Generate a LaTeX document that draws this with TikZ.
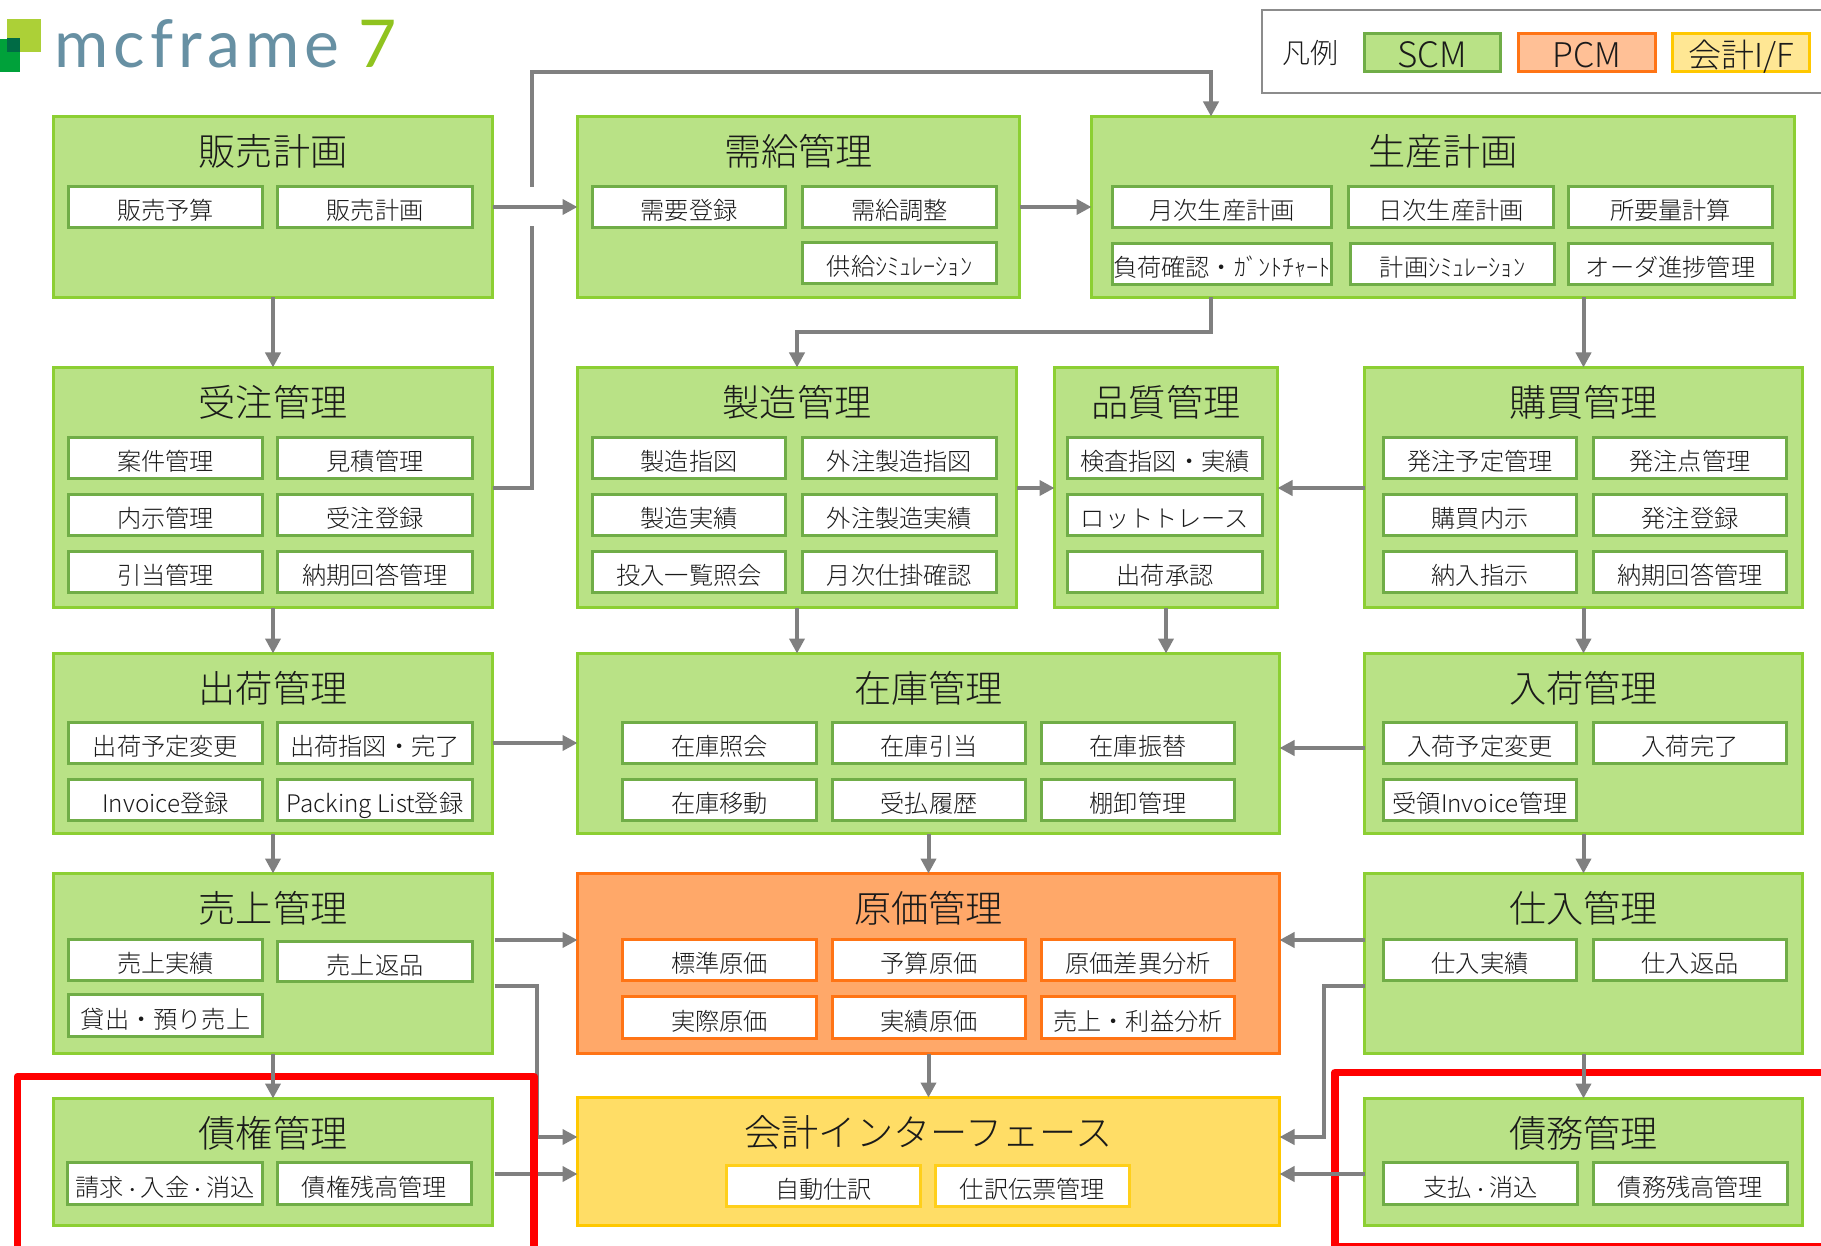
\documentclass[tikz,border=0pt]{standalone}
\usepackage{fontspec}
\usetikzlibrary{arrows.meta}
\setmainfont{Noto Sans CJK JP}[UprightFont=* Light,BoldFont=* Light]
\newfontfamily\logofont{Lato}
\definecolor{grn}{HTML}{B9E286}
\definecolor{grnb}{HTML}{8CCF33}
\definecolor{grns}{HTML}{70AD47}
\definecolor{org}{HTML}{FFA869}
\definecolor{orgb}{HTML}{FF7415}
\definecolor{yel}{HTML}{FFDD66}
\definecolor{yelb}{HTML}{FFC800}
\definecolor{yels}{HTML}{FFCF1A}
\definecolor{conncol}{HTML}{808080}
\definecolor{txt}{HTML}{1A1A1A}
\definecolor{logoa}{HTML}{ACD037}
\definecolor{logob}{HTML}{00A13A}
\definecolor{logoc}{HTML}{006B45}
\definecolor{logot}{HTML}{6790A3}
\definecolor{logos}{HTML}{90C31F}
\newcommand{\fs}[1]{\fontsize{#1}{#1}\selectfont}
\newcommand{\bx}[7]{%
  \pgfmathsetmacro\cxv{(#3+#5)/2}\pgfmathsetmacro\cyv{(#4+#6)/2}%
  \pgfmathsetmacro\wv{#5-#3-1}\pgfmathsetmacro\hv{#6-#4-1}%
  \node[#2,minimum width=\wv pt,minimum height=\hv pt] (#1) at (\cxv,\cyv) {#7};}
\newcommand{\ttl}[2]{\node[titletext] (#1t) at ([yshift=-35pt]#1.north) {#2};}
\newcommand{\sd}{{\fs{17}・}}
\tikzset{
  base/.style={rectangle,inner sep=0pt,outer sep=0pt,text=txt},
  gbig/.style={base,draw=grnb,fill=grn,line width=2.8pt},
  obig/.style={base,draw=orgb,fill=org,line width=2.8pt},
  ybig/.style={base,draw=yelb,fill=yel,line width=2.8pt},
  gs/.style={base,draw=grns,fill=white,line width=2.9pt,text height=25.5pt,text depth=0pt,font=\fs{24.2}},
  os/.style={gs,draw=orgb},
  ys/.style={gs,draw=yels},
  titletext/.style={inner sep=0pt,text=txt,font=\fs{37.2}},
  lgbox/.style={base,line width=3pt,text height=31pt,text depth=0pt},
  conn/.style={draw=conncol,line width=4pt,line join=miter},
  arr/.style={conn,-{Triangle[length=15pt,width=15pt]}},
  redframe/.style={draw=red,line width=7.5pt,line join=round},
}
\begin{document}
\begin{tikzpicture}[x=1pt,y=-1pt]
\clip (0,0) rectangle (1821,1246);
\fill[white] (0,0) rectangle (1821,1246);
% logo
\fill[logoa] (7,19) rectangle (41,52);
\fill[logob] (0,39) rectangle (20,72);
\fill[logoc] (7,38) rectangle (20,52);
\node[inner sep=0pt,anchor=base west,text=logot,font=\logofont\fs{66}] (logo) at (54,68) {m\kern5pt c\kern5pt f\kern5pt r\kern5pt a\kern5pt m\kern5pt e};
\node[inner sep=0pt,anchor=base west,text=logos,font=\logofont\fs{66}] (seven) at (358,68) {7};
% legend
\draw[draw=black!45,line width=2.5pt] (1262,10) rectangle (1900,93);
\node[base,font=\fs{28}] (lg) at (1310,53) {凡例};
\bx{lscm}{lgbox,draw=grns,fill=grn,font=\fs{35}}{1364}{33}{1501}{72}{SCM}
\bx{lpcm}{lgbox,draw=orgb,fill=orgb!45!white,font=\fs{34}}{1518}{33}{1656}{72}{PCM}
\bx{lif}{lgbox,draw=yelb,fill=yel!70!white,font=\fs{33}}{1672}{33}{1810}{72}{会計I/F}
% big boxes
\bx{hanbai}{gbig}{53}{116}{493}{298}{}
\bx{jukyu}{gbig}{577}{116}{1020}{298}{}
\bx{seisan}{gbig}{1091}{116}{1795}{298}{}
\bx{juchu}{gbig}{53}{367}{493}{608}{}
\bx{seizo}{gbig}{577}{367}{1017}{608}{}
\bx{hinshitsu}{gbig}{1054}{367}{1278}{608}{}
\bx{kobai}{gbig}{1364}{367}{1803}{608}{}
\bx{shukka}{gbig}{53}{653}{493}{834}{}
\bx{zaiko}{gbig}{577}{653}{1280}{834}{}
\bx{nyuka}{gbig}{1364}{653}{1803}{834}{}
\bx{uriage}{gbig}{53}{873}{493}{1054}{}
\bx{genka}{obig}{577}{873}{1280}{1054}{}
\bx{shiire}{gbig}{1364}{873}{1803}{1054}{}
\bx{saiken}{gbig}{53}{1098}{493}{1226}{}
\bx{kaikei}{ybig}{577}{1097}{1280}{1226}{}
\bx{saimu}{gbig}{1364}{1098}{1803}{1226}{}
% titles
\ttl{hanbai}{販売計画}\ttl{jukyu}{需給管理}\ttl{seisan}{生産計画}
\ttl{juchu}{受注管理}\ttl{seizo}{製造管理}\ttl{hinshitsu}{品質管理}\ttl{kobai}{購買管理}
\ttl{shukka}{出荷管理}\ttl{zaiko}{在庫管理}\ttl{nyuka}{入荷管理}
\ttl{uriage}{売上管理}\ttl{genka}{原価管理}\ttl{shiire}{仕入管理}
\ttl{saiken}{債権管理}\ttl{kaikei}{会計インターフェース}\ttl{saimu}{債務管理}
% small boxes
\bx{a1}{gs}{68}{186}{263}{228}{販売予算}
\bx{a2}{gs}{277}{186}{473}{228}{販売計画}
\bx{b1}{gs}{592}{186}{786}{228}{需要登録}
\bx{b2}{gs}{802}{186}{997}{228}{需給調整}
\bx{b3}{gs}{802}{242}{997}{284}{供給ｼﾐｭﾚｰｼｮﾝ}
\bx{c1}{gs}{1112}{186}{1332}{228}{月次生産計画}
\bx{c2}{gs}{1348}{186}{1554}{228}{日次生産計画}
\bx{c3}{gs}{1568}{186}{1773}{228}{所要量計算}
\bx{c4}{gs}{1112}{243}{1332}{285}{負荷確認・ｶﾞﾝﾄﾁｬｰﾄ}
\bx{c5}{gs}{1350}{243}{1555}{285}{計画ｼﾐｭﾚｰｼｮﾝ}
\bx{c6}{gs}{1568}{243}{1773}{285}{オーダ進捗管理}
\bx{d1}{gs}{68}{437}{263}{479}{案件管理}
\bx{d2}{gs}{277}{437}{473}{479}{見積管理}
\bx{d3}{gs}{68}{494}{263}{536}{内示管理}
\bx{d4}{gs}{277}{494}{473}{536}{受注登録}
\bx{d5}{gs}{68}{551}{263}{593}{引当管理}
\bx{d6}{gs}{277}{551}{473}{593}{納期回答管理}
\bx{e1}{gs}{592}{437}{786}{479}{製造指図}
\bx{e2}{gs}{802}{437}{997}{479}{外注製造指図}
\bx{e3}{gs}{592}{494}{786}{536}{製造実績}
\bx{e4}{gs}{802}{494}{997}{536}{外注製造実績}
\bx{e5}{gs}{592}{551}{786}{593}{投入一覧照会}
\bx{e6}{gs}{802}{551}{997}{593}{月次仕掛確認}
\bx{f1}{gs}{1067}{437}{1263}{479}{検査指図・実績}
\bx{f2}{gs}{1067}{494}{1263}{536}{ロットトレース}
\bx{f3}{gs}{1067}{551}{1263}{593}{出荷承認}
\bx{g1}{gs}{1383}{437}{1577}{479}{発注予定管理}
\bx{g2}{gs}{1593}{437}{1787}{479}{発注点管理}
\bx{g3}{gs}{1383}{494}{1577}{536}{購買内示}
\bx{g4}{gs}{1593}{494}{1787}{536}{発注登録}
\bx{g5}{gs}{1383}{551}{1577}{593}{納入指示}
\bx{g6}{gs}{1593}{551}{1787}{593}{納期回答管理}
\bx{h1}{gs}{68}{722}{263}{764}{出荷予定変更}
\bx{h2}{gs}{277}{722}{473}{764}{出荷指図・完了}
\bx{h3}{gs}{68}{779}{263}{821}{Invoice登録}
\bx{h4}{gs}{277}{779}{473}{821}{Packing List登録}
\bx{i1}{gs}{622}{722}{817}{764}{在庫照会}
\bx{i2}{gs}{832}{722}{1026}{764}{在庫引当}
\bx{i3}{gs}{1041}{722}{1235}{764}{在庫振替}
\bx{i4}{gs}{622}{779}{817}{821}{在庫移動}
\bx{i5}{gs}{832}{779}{1026}{821}{受払履歴}
\bx{i6}{gs}{1041}{779}{1235}{821}{棚卸管理}
\bx{j1}{gs}{1383}{722}{1577}{764}{入荷予定変更}
\bx{j2}{gs}{1593}{722}{1787}{764}{入荷完了}
\bx{j3}{gs}{1383}{779}{1577}{821}{受領Invoice管理}
\bx{k1}{gs}{68}{939}{263}{981}{売上実績}
\bx{k2}{gs}{277}{941}{473}{982}{売上返品}
\bx{k3}{gs}{68}{994}{263}{1037}{貸出・預り売上}
\bx{l1}{os}{622}{939}{817}{981}{標準原価}
\bx{l2}{os}{832}{939}{1026}{981}{予算原価}
\bx{l3}{os}{1041}{939}{1235}{981}{原価差異分析}
\bx{l4}{os}{622}{996}{817}{1039}{実際原価}
\bx{l5}{os}{832}{996}{1026}{1039}{実績原価}
\bx{l6}{os}{1041}{996}{1235}{1039}{売上・利益分析}
\bx{m1}{gs}{1383}{939}{1577}{981}{仕入実績}
\bx{m2}{gs}{1593}{939}{1787}{981}{仕入返品}
\bx{n1}{gs}{67}{1162}{263}{1205}{請求\sd 入金\sd 消込}
\bx{n2}{gs}{277}{1162}{472}{1205}{債権残高管理}
\bx{o1}{ys}{726}{1165}{921}{1207}{自動仕訳}
\bx{o2}{ys}{935}{1165}{1130}{1207}{仕訳伝票管理}
\bx{p1}{gs}{1383}{1162}{1578}{1205}{支払\sd 消込}
\bx{p2}{gs}{1593}{1162}{1788}{1205}{債務残高管理}
% free corners
\coordinate (q1) at (532,226);
\coordinate (q2) at (532,187);
\coordinate (q3) at (532,72);
\coordinate (q4) at (1211,332);
\coordinate (q5) at (537,986);
\coordinate (q6) at (1323.5,986);
% connectors
\draw[arr] (hanbai.east) -- (jukyu.west);
\draw[conn] (juchu.east |- 0,488) -| (q1);
\draw[arr] (q2) -- (q3) -| (seisan.north -| q4);
\draw[arr] (jukyu.east |- 0,207) -- (seisan.west |- 0,207);
\draw[arr] (hanbai.south) -- (juchu.north);
\draw[arr] (seisan.south -| q4) -- (q4) -| (seizo.north);
\draw[arr] (seisan.south -| kobai.north) -- (kobai.north);
\draw[arr] (seizo.east |- 0,488) -- (hinshitsu.west |- 0,488);
\draw[arr] (kobai.west |- 0,488) -- (hinshitsu.east |- 0,488);
\draw[arr] (juchu.south) -- (shukka.north);
\draw[arr] (seizo.south) -- (seizo.south |- zaiko.north);
\draw[arr] (hinshitsu.south) -- (hinshitsu.south |- zaiko.north);
\draw[arr] (kobai.south) -- (nyuka.north);
\draw[arr] (shukka.east |- 0,743) -- (zaiko.west |- 0,743);
\draw[arr] (nyuka.west |- 0,748) -- (zaiko.east |- 0,748);
\draw[arr] (shukka.south) -- (uriage.north);
\draw[arr] (zaiko.south) -- (genka.north);
\draw[arr] (nyuka.south) -- (shiire.north);
\draw[arr] ([xshift=2pt]uriage.east |- 0,940) -- (genka.west |- 0,940);
\draw[arr] (shiire.west |- 0,940) -- (genka.east |- 0,940);
\draw[arr] ([xshift=2pt]uriage.east |- q5) -- (q5) |- (kaikei.west |- 0,1137);
\draw[arr] ([xshift=2pt]saiken.east |- 0,1174) -- (kaikei.west |- 0,1174);
\draw[arr] (shiire.west |- q6) -- (q6) |- (kaikei.east |- 0,1137);
% red frames
\draw[redframe] (17.5,1076.5) rectangle (534,1300);
\draw[redframe] (1335,1072.5) rectangle (1900,1246.5);
% connectors drawn over the red frames
\draw[arr] (uriage.south) -- (saiken.north);
\draw[arr] (genka.south) -- (kaikei.north);
\draw[arr] (shiire.south) -- (saimu.north);
\draw[arr] (saimu.west |- 0,1174) -- (kaikei.east |- 0,1174);
\end{tikzpicture}
\end{document}
